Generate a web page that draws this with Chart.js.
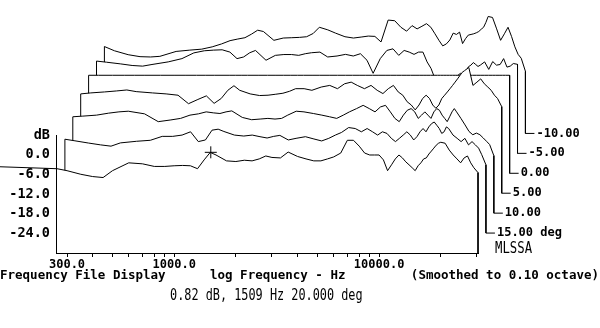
<!DOCTYPE html>
<html>
<head>
<meta charset="utf-8">
<script src="https://cdn.jsdelivr.net/npm/chart.js@4/dist/chart.umd.min.js"></script>
<style>
  html, body { margin: 0; padding: 0; background: #fff; }
  #wrap { width: 600px; height: 328px; }
</style>
</head>
<body>
<div id="wrap"><canvas id="c" width="600" height="328"></canvas></div>
<script>
// Off-axis frequency responses (dB re on-axis), MLSSA waterfall display.
const FREQ_HZ = [268,300,350,400,450,500,600,700,800,900,
  1000,1100,1200,1300,1400,1500,1600,1800,2000,2200,
  2400,2600,2800,3000,3300,3600,4000,4400,4800,5200,
  5600,6000,6500,7000,7500,8000,8500,9000,9500,10000,
  10500,11000,11500,12000,12500,13000,13500,14000,14500,15000,
  15500,16000,16500,17000,17500,18000,18500,19000,19500,20000,
  21000,22000,23000,24000,25000,26000,27000,28000,29000,30400];

const ANGLES_DEG = [20, 15, 10, 5, 0, -5, -10];

const DB_20 = [-4.2,-4.8,-5.9,-6.6,-6.9,-4.8,-2.4,-2.7,-3.5,-3.5,
  -3.3,-3.2,-3.3,-4.2,-1.5,0.8,0.0,-1.8,-2.0,-1.6,
  -1.8,-1.2,-0.3,-0.75,-0.9,0.9,-0.45,-1.2,-1.8,-1.8,
  -1.2,-0.6,0.6,4.5,4.5,2.7,0.6,0,0,0,
  -1.5,-4.8,-3.0,-1.2,0,-0.9,-2.1,-3.0,-3.9,-4.8,
  -3.3,-2.4,-1.2,-0.9,0.3,1.2,2.1,3.0,3.6,3.9,
  3.6,1.5,0,-1.2,-2.4,-0.9,-0.3,-2.4,-3.9,-5.4];
const DB_15 = [-1.27,-1.76,-2.45,-3.0,-3.4,-2.4,-1.9,-1.6,-0.4,-0.4,
  0.0,1.0,-2.0,-1.5,1.5,1.8,1.1,0.0,-0.3,0.0,
  -0.5,-0.9,-0.4,-0.1,-1.5,-1.0,-0.5,-1.2,-1.8,-1.0,
  0.0,0.8,2.3,2.0,1.0,2.0,1.0,0.0,1.0,0.5,
  -1.0,-2.0,-1.0,0.0,1.0,0.0,-1.5,-0.5,1.0,2.0,
  1.0,2.5,3.5,4.0,3.0,2.0,0.5,1.0,2.5,2.0,
  0.0,-1.0,-2.0,-1.0,-3.0,-2.0,-3.0,-4.0,-6.0,-9.1];
const DB_10 = [-0.5,-0.3,0.0,0.6,1.0,1.2,0.4,-2.0,-1.5,-1.0,
  0.0,0.4,1.0,0.7,0.5,1.0,1.3,-0.7,-1.4,-1.2,
  -1.0,-1.2,-1.0,0.0,1.2,1.0,0.5,0.0,-0.5,-1.0,
  0.0,1.0,2.0,3.0,2.0,1.0,2.5,3.0,1.0,-1.0,
  -2.0,0.0,1.5,2.0,1.0,-1.0,0.0,1.0,0.0,-1.0,
  1.0,2.0,1.5,0.0,-1.0,-2.0,-0.5,1.0,2.0,1.0,
  -1.0,-3.0,-5.0,-6.0,-5.5,-6.0,-7.0,-8.0,-9.0,-12.4];
const DB_5 = [0.4,0.7,1.0,1.3,1.6,1.1,0.7,0.4,0.0,-2.6,
  -1.3,-0.2,-2.5,-1.0,1.5,2.9,1.5,0.4,-0.1,0.0,
  0.3,0.6,1.2,2.0,2.0,1.5,2.5,3.0,2.0,3.5,
  4.0,3.0,2.0,3.0,1.5,0.5,2.0,3.0,1.0,0.0,
  -2.0,-3.0,-4.5,-3.0,-1.0,0.0,-1.0,-3.0,-4.0,-3.0,
  -1.0,0.0,1.0,2.0,3.0,4.0,5.0,6.0,7.0,7.5,
  8.5,3.0,4.0,5.0,3.5,2.5,1.5,0.0,-1.0,-3.5];
const DB_0 = [0,0,0,0,0,0,0,0,0,0, 0,0,0,0,0,0,0,0,0,0,
  0,0,0,0,0,0,0,0,0,0, 0,0,0,0,0,0,0,0,0,0,
  0,0,0,0,0,0,0,0,0,0, 0,0,0,0,0,0,0,0,0,0,
  0,0,0,0,0,0,0,0,0,0];
const DB_M5 = [-1.75,-2.1,-2.6,-3.1,-3.3,-2.8,-2.0,-1.0,0.75,1.4,
  1.6,1.7,1.0,-1.0,-0.5,0.8,1.5,-1.5,0.0,0.25,
  0.25,0.0,0.5,0.8,1.0,-0.5,-0.2,0.3,-0.2,0.5,
  -1.5,-5.5,-1.0,1.5,2.0,0.0,1.5,1.0,0.3,1.0,
  1.0,-2.0,-4.0,-7.0,-10.0,-15.0,-13.0,-10.0,-8.0,-6.5,
  -6.2,-5.5,-6.3,-5.0,-3.5,-3.0,-2.2,-2.8,-3.4,-3.0,
  -2.0,-4.3,-1.9,-3.0,-2.8,-1.0,-3.6,-3.3,-2.5,-2.75];
const DB_M10 = [-3.4,-4.7,-5.9,-6.5,-6.6,-6.4,-4.9,-4.5,-4.2,-3.5,
  -2.6,-1.6,-1.1,-0.7,0.4,1.6,1.2,-1.5,-0.8,-0.7,
  -0.6,-0.4,0.6,2.5,1.7,0.7,-0.4,-0.8,-0.5,-0.2,
  -0.3,-2.0,4.7,4.5,2.5,1.3,3.0,2.0,2.8,3.6,
  2.5,0.5,-1.5,-3.2,-2.6,-1.4,0.7,0.3,1.0,-2.5,
  -1.0,0.1,0.3,0.5,0.8,1.2,1.9,2.5,4.0,5.8,
  5.5,2.0,-1.5,0.5,2.5,-0.3,-3.5,-5.8,-7.0,-11.0];

// The 20 deg trace begins below the displayed band.
const LEAD_HZ = 141;
const LEAD_DB = -3.6;

const CURVE_LABELS = ['', '15.00 deg', '10.00', '5.00', '0.00', '-5.00', '-10.00'];

const X_TICKS_HZ = [300,400,500,600,700,800,900,1000,2000,3000,4000,5000,6000,7000,8000,9000,10000,20000,30000];
const X_TICK_LABELS = {300: '300.0', 1000: '1000.0', 10000: '10000.0'};
const Y_TICKS_DB = [6, 0, -6, -12, -18, -24];
const Y_TICK_LABELS = {6: 'dB', 0: '0.0', '-6': '-6.0', '-12': '-12.0', '-18': '-18.0', '-24': '-24.0'};

const CURSOR = {hz: 1509, db: 0.82, deg: 20};

// Display geometry of the waterfall
const X_MIN_HZ = 268, X_MAX_HZ = 30390;
const Y_MIN_DB = -30, Y_MAX_DB = 45.3, Y_AXIS_TOP_DB = 6;
const STEP_DECADES = 7.9 / 204.9;   // rightward shift per trace
const STEP_DB = 6.1;                // upward shift per trace
const TICK_DECADES = 9 / 204.9;     // length of the label leader

const SERIES = [DB_20, DB_15, DB_10, DB_5, DB_0, DB_M5, DB_M10];
const MONO = '"DejaVu Sans Mono", "Liberation Mono", monospace';

function traceEndHz(k) {
  return FREQ_HZ[FREQ_HZ.length - 1] * Math.pow(10, k * STEP_DECADES);
}

function tracePoints(k) {
  const s = Math.pow(10, k * STEP_DECADES);
  const off = k * STEP_DB;
  const base = Y_MIN_DB + off;
  const pts = [];
  if (k === 0) pts.push({x: LEAD_HZ, y: LEAD_DB});
  else pts.push({x: FREQ_HZ[0] * s, y: base});
  SERIES[k].forEach((v, i) => pts.push({x: FREQ_HZ[i] * s, y: v + off}));
  const fEnd = traceEndHz(k);
  pts.push({x: fEnd, y: base});
  if (k > 0) pts.push({x: fEnd * Math.pow(10, TICK_DECADES), y: base});
  return pts;
}

const datasets = [{
  type: 'scatter',
  data: [{x: CURSOR.hz, y: CURSOR.db}],
  pointStyle: 'cross', pointRadius: 6, borderColor: '#000', borderWidth: 1,
  order: 0, clip: false
}];
ANGLES_DEG.forEach((deg, k) => {
  datasets.push({
    label: deg + ' deg',
    data: tracePoints(k),
    borderColor: '#000',
    borderWidth: 1,
    backgroundColor: '#fff',
    fill: 'start',
    pointRadius: 0,
    tension: 0,
    clip: false,
    order: k + 1
  });
});

const annotate = {
  id: 'annotate',
  afterDraw(chart) {
    const {ctx, chartArea, scales: {x, y}} = chart;
    ctx.save();
    ctx.strokeStyle = '#000';
    ctx.lineWidth = 1;
    // dB axis line, only over the labelled span
    const ax = Math.round(chartArea.left) - 0.5;
    ctx.beginPath();
    ctx.moveTo(ax, Math.round(y.getPixelForValue(Y_AXIS_TOP_DB)));
    ctx.lineTo(ax, Math.round(chartArea.bottom) + 1);
    ctx.stroke();

    ctx.fillStyle = '#000';
    ctx.textBaseline = 'middle';
    ctx.font = 'bold 12px ' + MONO;
    for (let k = 1; k < ANGLES_DEG.length; k++) {
      const px = x.getPixelForValue(traceEndHz(k) * Math.pow(10, TICK_DECADES)) + 2;
      const py = y.getPixelForValue(Y_MIN_DB + k * STEP_DB);
      ctx.fillText(CURVE_LABELS[k], px, py);
    }

    // condensed readout font
    const narrow = (text, px, py, sx) => {
      ctx.save();
      ctx.translate(px, py);
      ctx.scale(sx, 1);
      ctx.font = '15px ' + MONO;
      ctx.fillText(text, 0, 0);
      ctx.restore();
    };
    narrow('MLSSA', x.getPixelForValue(traceEndHz(0)) + 17, y.getPixelForValue(Y_MIN_DB) - 4, 0.82);

    ctx.font = 'bold 12.5px ' + MONO;
    ctx.textAlign = 'left';
    ctx.fillText('Frequency File Display', 0, 276);
    ctx.fillText('log Frequency - Hz', 210, 276);
    ctx.textAlign = 'right';
    ctx.fillText('(Smoothed to 0.10 octave)', 599, 276);
    ctx.textAlign = 'left';

    const readout = CURSOR.db.toFixed(2) + ' dB, ' + CURSOR.hz + ' Hz ' + CURSOR.deg.toFixed(3) + ' deg';
    narrow(readout, 170, 296, 0.79);
    ctx.restore();
  }
};

new Chart(document.getElementById('c'), {
  type: 'line',
  data: {datasets},
  options: {
    responsive: false,
    animation: false,
    devicePixelRatio: 1,
    layout: {padding: {left: 0, right: 122, top: 2, bottom: 0}},
    plugins: {legend: {display: false}, tooltip: {enabled: false}},
    scales: {
      x: {
        type: 'logarithmic', position: 'bottom', bounds: 'data', z: 1,
        afterDataLimits: s => { s.min = X_MIN_HZ; s.max = X_MAX_HZ; },
        afterFit: s => { s.height = 75; s.paddingLeft = 0; s.paddingRight = 0; },
        afterBuildTicks: s => { s.ticks = X_TICKS_HZ.map(v => ({value: v})); },
        grid: {display: true, drawOnChartArea: false, drawTicks: true, tickLength: 4, color: '#000', lineWidth: 1},
        border: {display: true, color: '#000', width: 1},
        ticks: {autoSkip: false, maxRotation: 0, minRotation: 0, padding: 1, color: '#000',
          font: {family: MONO, size: 12, weight: 'bold'},
          callback: v => X_TICK_LABELS[v] || ''}
      },
      y: {
        type: 'linear', position: 'left', min: Y_MIN_DB, max: Y_MAX_DB, z: 1,
        afterFit: s => { s.width = 57; s.paddingTop = 0; s.paddingBottom = 0; },
        afterBuildTicks: s => { s.ticks = Y_TICKS_DB.map(v => ({value: v})); },
        grid: {display: false, drawTicks: false},
        border: {display: false},
        ticks: {padding: 7, color: '#000', font: {family: MONO, size: 13.5, weight: 'bold'},
          callback: v => Y_TICK_LABELS[v]}
      }
    }
  },
  plugins: [annotate]
});
</script>
</body>
</html>
